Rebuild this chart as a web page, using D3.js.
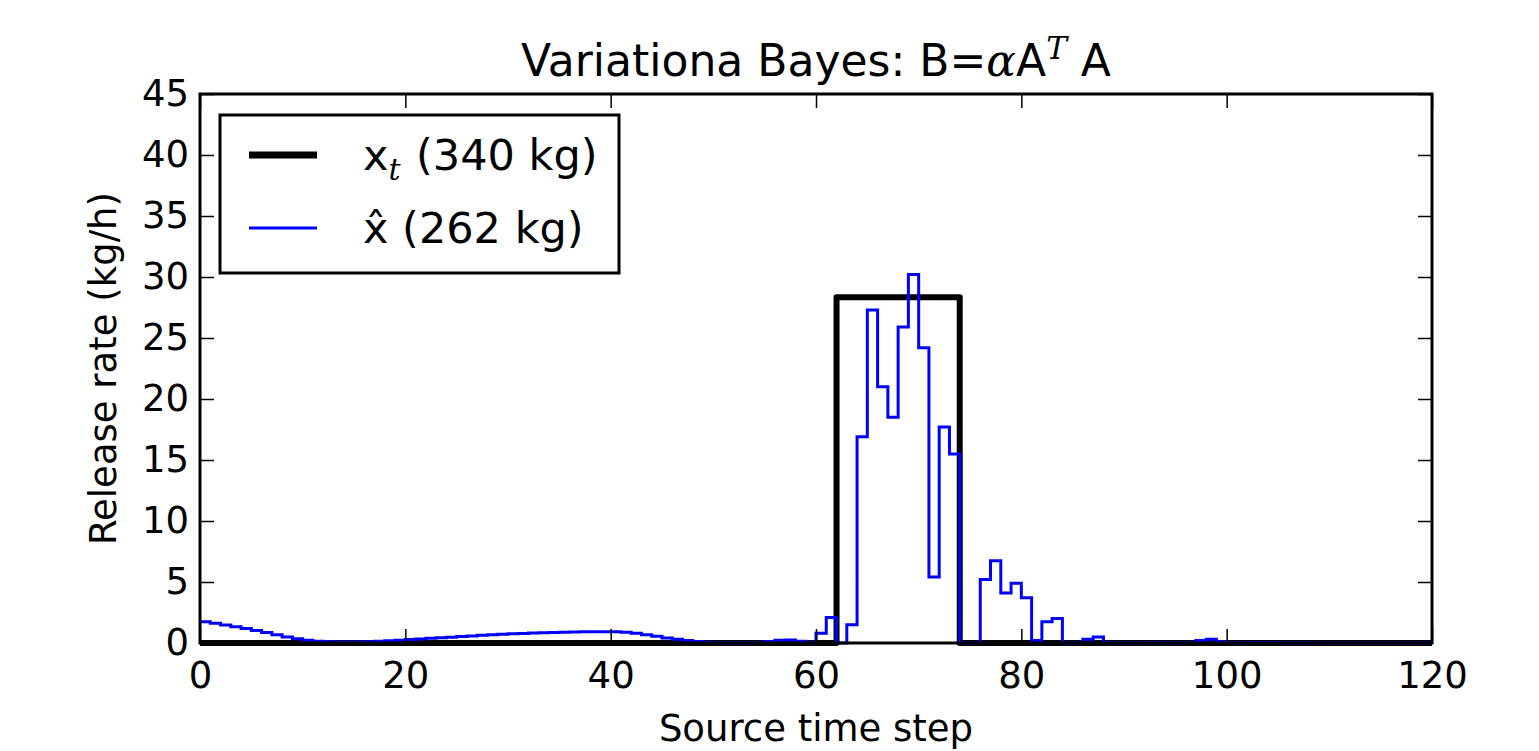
<!DOCTYPE html>
<html>
<head>
<meta charset="utf-8">
<script src="https://cdn.jsdelivr.net/npm/d3@7"></script>
<style>
  body { margin: 0; background: #fff; }
  text { font-family: "DejaVu Sans", sans-serif; fill: #000; }
</style>
</head>
<body>
<div id="chart"></div>
<script>
// values per source time step (interval [i, i+1))
var trueRelease = [
  0,0,0,0,0,0,0,0,0,0, 0,0,0,0,0,0,0,0,0,0,
  0,0,0,0,0,0,0,0,0,0, 0,0,0,0,0,0,0,0,0,0,
  0,0,0,0,0,0,0,0,0,0, 0,0,0,0,0,0,0,0,0,0,
  0,0,28.33,28.33,28.33,28.33,28.33,28.33,28.33,28.33, 28.33,28.33,28.33,28.33,0,0,0,0,0,0,
  0,0,0,0,0,0,0,0,0,0, 0,0,0,0,0,0,0,0,0,0,
  0,0,0,0,0,0,0,0,0,0, 0,0,0,0,0,0,0,0,0,0
]
var estRelease = [
  1.75,1.62,1.48,1.33,1.18,1.02,0.86,0.68,0.50,0.34,
  0.22,0.14,0.10,0.08,0.08,0.09,0.11,0.14,0.18,0.23,
  0.28,0.33,0.38,0.43,0.48,0.53,0.58,0.63,0.67,0.71,
  0.75,0.78,0.81,0.84,0.87,0.89,0.91,0.92,0.93,0.93,
  0.92,0.88,0.80,0.68,0.55,0.42,0.30,0.20,0.12,0.06,
  0.03,0.02,0.02,0.02,0.05,0.12,0.22,0.25,0.15,0.02,
  0.8,2.1,0,1.5,16.9,27.3,21.0,18.5,25.9,30.2,
  24.2,5.4,17.7,15.5,0,0,5.2,6.75,4.1,4.9,
  3.7,0.2,1.75,2.0,0,0,0.3,0.5,0.05,0.02,
  0.02,0.02,0.05,0.05,0.03,0.02,0.05,0.2,0.3,0.1,
  0.05,0.02,0.05,0.05,0.05,0.02,0.02,0.02,0.02,0,
  0,0,0,0,0,0,0,0,0,0
]
var xTicks = [0, 20, 40, 60, 80, 100, 120]
var yTicks = [0, 5, 10, 15, 20, 25, 30, 35, 40, 45]
var legendLabels = ["(340 kg)", "(262 kg)"]

var W = 1539, H = 751
var margin = {top: 94, right: 107, bottom: 108, left: 200},
    width = W - margin.left - margin.right,
    height = H - margin.top - margin.bottom;

var svgRoot = d3.select("#chart").append("svg")
    .attr("width", W).attr("height", H)
var svg = svgRoot.append("g")
    .attr("transform", "translate(" + margin.left + "," + margin.top + ")")

var x = d3.scaleLinear().domain([0, 120]).range([0, width])
var y = d3.scaleLinear().domain([0, 45]).range([height, 0])

function stepPoints(vals) {
  var pts = vals.map(function(v, i) { return [i, v] })
  pts.push([vals.length, vals[vals.length - 1]])
  return pts
}

var line = d3.line()
    .x(function(d) { return x(d[0]) })
    .y(function(d) { return y(d[1]) })
    .curve(d3.curveStepAfter)

svg.append("path")
    .datum(stepPoints(trueRelease))
    .attr("fill", "none").attr("stroke", "#000")
    .attr("stroke-width", 6).attr("stroke-linejoin", "round")
    .attr("d", line)

svg.append("path")
    .datum(stepPoints(estRelease))
    .attr("fill", "none").attr("stroke", "#0000ff")
    .attr("stroke-width", 3)
    .attr("d", line)

// axes with inward ticks on all sides
var tickLen = 14
function styleAxis(g) {
  g.select(".domain").remove()
  g.selectAll(".tick line").attr("stroke", "#000").attr("stroke-width", 1.5)
  g.selectAll(".tick text").style("font-size", "37px").style("font-family", "DejaVu Sans")
}
svg.append("g")
    .attr("transform", "translate(0," + height + ")")
    .call(d3.axisBottom(x).tickValues(xTicks).tickSize(-tickLen).tickPadding(19))
    .call(styleAxis)
svg.append("g")
    .call(d3.axisTop(x).tickValues(xTicks).tickSize(-tickLen).tickFormat(""))
    .call(styleAxis)
svg.append("g")
    .call(d3.axisLeft(y).tickValues(yTicks).tickSize(-tickLen).tickPadding(11))
    .call(styleAxis)
svg.append("g")
    .attr("transform", "translate(" + width + ",0)")
    .call(d3.axisRight(y).tickValues(yTicks).tickSize(-tickLen).tickFormat(""))
    .call(styleAxis)

svg.append("rect")
    .attr("width", width).attr("height", height)
    .attr("fill", "none").attr("stroke", "#000").attr("stroke-width", 3)

// title
var title = svg.append("text")
    .attr("x", width / 2).attr("y", -18)
    .attr("text-anchor", "middle")
    .style("font-size", "44px")
title.append("tspan").text("Variationa Bayes: B=")
title.append("tspan").style("font-family", "DejaVu Serif").style("font-style", "italic").text("α")
title.append("tspan").text("A")
title.append("tspan").attr("dy", -17).style("font-size", "31px")
    .style("font-family", "DejaVu Serif").style("font-style", "italic").text("T")
title.append("tspan").attr("dy", 17).text(" A")

// axis labels
svg.append("text")
    .attr("x", width / 2).attr("y", height + 98)
    .attr("text-anchor", "middle")
    .style("font-size", "37px")
    .text("Source time step")
svg.append("text")
    .attr("transform", "rotate(-90)")
    .attr("x", -height / 2).attr("y", -84)
    .attr("text-anchor", "middle")
    .style("font-size", "37px")
    .text("Release rate (kg/h)")

// legend
var lg = svg.append("g").attr("transform", "translate(20,21)")
lg.append("rect")
    .attr("width", 399).attr("height", 158)
    .attr("fill", "#fff").attr("stroke", "#000").attr("stroke-width", 3)
lg.append("line").attr("x1", 29).attr("x2", 97).attr("y1", 40).attr("y2", 40)
    .attr("stroke", "#000").attr("stroke-width", 7)
lg.append("line").attr("x1", 29).attr("x2", 97).attr("y1", 113).attr("y2", 113)
    .attr("stroke", "#0000ff").attr("stroke-width", 3)
var t1 = lg.append("text").attr("x", 143).attr("y", 55).style("font-size", "43px")
t1.append("tspan").text("x")
t1.append("tspan").attr("dy", 10).style("font-size", "30px")
    .style("font-family", "DejaVu Serif").style("font-style", "italic").text("t")
t1.append("tspan").attr("dy", -10).attr("x", 196).text(legendLabels[0])
var t2 = lg.append("text").attr("x", 143).attr("y", 128).style("font-size", "43px")
t2.append("tspan").text("x\u0302 " + legendLabels[1])
</script>
</body>
</html>
